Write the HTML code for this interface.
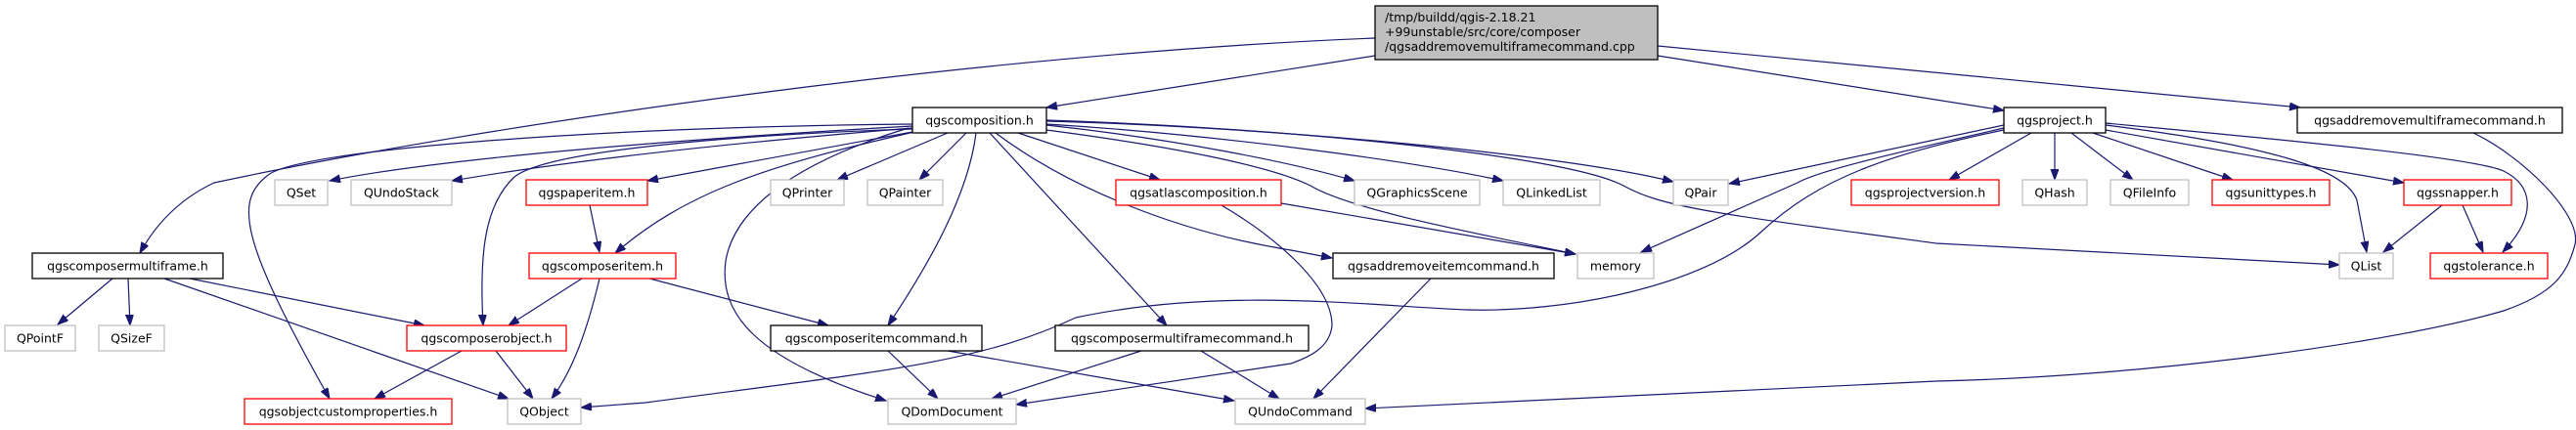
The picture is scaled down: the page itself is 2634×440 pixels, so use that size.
<!DOCTYPE html>
<html><head><meta charset="utf-8"><style>
html,body{margin:0;padding:0;background:#fff;}
svg{display:block;}
text{font-family:"DejaVu Sans","Liberation Sans",sans-serif;font-size:12.5px;fill:#000;}
.e{fill:none;stroke:#191970;stroke-width:1.2;marker-end:url(#a);}
.b{fill:#fff;stroke:#000;stroke-width:1.3;}
.g{fill:#fff;stroke:#bfbfbf;stroke-width:1.3;}
.r{fill:#fff;stroke:#ff0000;stroke-width:1.3;}
</style></head><body>
<svg width="2634" height="440" viewBox="0 0 2634 440" xmlns="http://www.w3.org/2000/svg">
<defs><marker id="a" markerUnits="userSpaceOnUse" markerWidth="12" markerHeight="10" refX="11" refY="4" orient="auto"><path d="M0,0 L11,4 L0,8 z" fill="#191970" stroke="#191970"/></marker></defs>
<g>
<path class="e" d="M1406,39 C1000,55 500,127 219,187 Q170,210 143,259"/>
<path class="e" d="M1406,57 L1070,110"/>
<path class="e" d="M1695,57 L2049,113"/>
<path class="e" d="M1695,47 L2352,110"/>
<path class="e" d="M933,129 C700,142 450,162 337,185"/>
<path class="e" d="M933,131 C700,150 550,170 462,185"/>
<path class="e" d="M933,135 L662,185"/>
<path class="e" d="M935,135 C780,170 700,198 629,259"/>
<path class="e" d="M933,132 C750,138 560,154 526,181 C495,210 490,261 494,333"/>
<path class="e" d="M933,127 C600,130 300,154 273,180 C240,206 245,245 337,408"/>
<path class="e" d="M969,136 L856,184"/>
<path class="e" d="M988,136 L940,184"/>
<path class="e" d="M929,131 C800,170 750,220 742,267 C735,320 770,367 906,410"/>
<path class="e" d="M998,136 C990,200 950,270 908,333"/>
<path class="e" d="M1012,136 L1193,333"/>
<path class="e" d="M1041,136 L1186,184"/>
<path class="e" d="M1070,128 C1200,142 1320,166 1385,185"/>
<path class="e" d="M1070,127 C1250,138 1450,166 1537,185"/>
<path class="e" d="M1070,124 C1300,130 1600,158 1711,186"/>
<path class="e" d="M1070,133 C1200,150 1300,170 1340,190 C1380,214 1500,237 1611,260"/>
<path class="e" d="M1018,136 C1090,190 1200,237 1320,256 L1362,264"/>
<path class="e" d="M1310,208 L1611,260"/>
<path class="e" d="M1249,210 C1300,240 1362,290 1362,333 C1360,355 1340,365 1320,372 L1039,414"/>
<path class="e" d="M1070,123 C1300,130 1600,158 1660,190 C1700,212 1750,218 1980,249 L2392,271"/>
<path class="e" d="M2049,128 L1768,188"/>
<path class="e" d="M2049,131 C1950,154 1860,174 1838,187 L1678,258"/>
<path class="e" d="M2049,133 C1930,158 1860,182 1800,238 C1740,293 1600,320 1500,317 C1400,313 1250,293 1100,325 C1000,372 900,380 660,412 L594,417"/>
<path class="e" d="M2077,136 L1993,184"/>
<path class="e" d="M2101,136 L2101,184"/>
<path class="e" d="M2118,136 L2181,184"/>
<path class="e" d="M2140,136 L2283,184"/>
<path class="e" d="M2153,133 L2458,187"/>
<path class="e" d="M2153,128 C2330,150 2400,175 2410,205 L2420,258"/>
<path class="e" d="M2153,126 C2300,140 2527,160 2560,175 C2590,190 2595,220 2559,258"/>
<path class="e" d="M2497,210 L2437,258"/>
<path class="e" d="M2518,210 L2539,258"/>
<path class="e" d="M2527,135 C2580,160 2640,220 2633,250 C2625,280 2612,300 2560,318 C2450,350 2200,385 1980,390 L1396,418"/>
<path class="e" d="M115,285 L59,332"/>
<path class="e" d="M131,285 L133,333"/>
<path class="e" d="M194,285 L434,333"/>
<path class="e" d="M168,285 L520,408"/>
<path class="e" d="M603,210 L613,258"/>
<path class="e" d="M595,285 L520,333"/>
<path class="e" d="M613,285 C600,340 585,380 564,408"/>
<path class="e" d="M664,285 L847,333"/>
<path class="e" d="M472,359 L383,408"/>
<path class="e" d="M507,359 L545,408"/>
<path class="e" d="M908,359 L959,408"/>
<path class="e" d="M969,359 L1262,410"/>
<path class="e" d="M1167,359 L1014,408"/>
<path class="e" d="M1228,359 L1308,408"/>
<path class="e" d="M1463,285 L1343,408"/>
</g>
<g>
<rect x="1406" y="6" width="289" height="55" fill="#bfbfbf" stroke="#000" stroke-width="1.3"/>
<text x="1416" y="22">/tmp/buildd/qgis-2.18.21</text>
<text x="1416" y="37">+99unstable/src/core/composer</text>
<text x="1416" y="52">/qgsaddremovemultiframecommand.cpp</text>
</g>
<g text-anchor="middle">
<rect class="b" x="933" y="110" width="137" height="26"/><text x="1001.5" y="127.5">qgscomposition.h</text>
<rect class="b" x="2049" y="110" width="104" height="26"/><text x="2101" y="127.5">qgsproject.h</text>
<rect class="b" x="2349" y="110" width="271" height="26"/><text x="2484.5" y="127.5">qgsaddremovemultiframecommand.h</text>

<rect class="g" x="281" y="184" width="54" height="26"/><text x="308" y="201.5">QSet</text>
<rect class="g" x="359" y="184" width="103" height="26"/><text x="410.5" y="201.5">QUndoStack</text>
<rect class="r" x="538" y="184" width="124" height="26"/><text x="600" y="201.5">qgspaperitem.h</text>
<rect class="g" x="788" y="184" width="75" height="26"/><text x="825.5" y="201.5">QPrinter</text>
<rect class="g" x="887" y="184" width="77" height="26"/><text x="925.5" y="201.5">QPainter</text>
<rect class="r" x="1141" y="184" width="169" height="26"/><text x="1225.5" y="201.5">qgsatlascomposition.h</text>
<rect class="g" x="1385" y="184" width="128" height="26"/><text x="1449" y="201.5">QGraphicsScene</text>
<rect class="g" x="1537" y="184" width="99" height="26"/><text x="1586.5" y="201.5">QLinkedList</text>
<rect class="g" x="1711" y="184" width="56" height="26"/><text x="1739" y="201.5">QPair</text>
<rect class="r" x="1893" y="184" width="151" height="26"/><text x="1968.5" y="201.5">qgsprojectversion.h</text>
<rect class="g" x="2068" y="184" width="66" height="26"/><text x="2101" y="201.5">QHash</text>
<rect class="g" x="2158" y="184" width="80" height="26"/><text x="2198" y="201.5">QFileInfo</text>
<rect class="r" x="2262" y="184" width="120" height="26"/><text x="2322" y="201.5">qgsunittypes.h</text>
<rect class="r" x="2458" y="184" width="110" height="26"/><text x="2513" y="201.5">qgssnapper.h</text>

<rect class="b" x="33" y="259" width="195" height="26"/><text x="130.5" y="276.5">qgscomposermultiframe.h</text>
<rect class="r" x="541" y="259" width="150" height="26"/><text x="616" y="276.5">qgscomposeritem.h</text>
<rect class="b" x="1363" y="259" width="226" height="26"/><text x="1476" y="276.5">qgsaddremoveitemcommand.h</text>
<rect class="g" x="1613" y="259" width="78" height="26"/><text x="1652" y="276.5">memory</text>
<rect class="g" x="2392" y="259" width="55" height="26"/><text x="2419.5" y="276.5">QList</text>
<rect class="r" x="2485" y="259" width="120" height="26"/><text x="2545" y="276.5">qgstolerance.h</text>

<rect class="g" x="5" y="333" width="72" height="26"/><text x="41" y="350.5">QPointF</text>
<rect class="g" x="101" y="333" width="67" height="26"/><text x="134.5" y="350.5">QSizeF</text>
<rect class="r" x="416" y="333" width="163" height="26"/><text x="497.5" y="350.5">qgscomposerobject.h</text>
<rect class="b" x="788" y="333" width="216" height="26"/><text x="896" y="350.5">qgscomposeritemcommand.h</text>
<rect class="b" x="1079" y="333" width="259" height="26"/><text x="1208.5" y="350.5">qgscomposermultiframecommand.h</text>

<rect class="r" x="250" y="408" width="212" height="26"/><text x="356" y="425.5">qgsobjectcustomproperties.h</text>
<rect class="g" x="519" y="408" width="75" height="26"/><text x="556.5" y="425.5">QObject</text>
<rect class="g" x="908" y="408" width="131" height="26"/><text x="973.5" y="425.5">QDomDocument</text>
<rect class="g" x="1263" y="408" width="133" height="26"/><text x="1329.5" y="425.5">QUndoCommand</text>
</g>
</svg>
</body></html>
